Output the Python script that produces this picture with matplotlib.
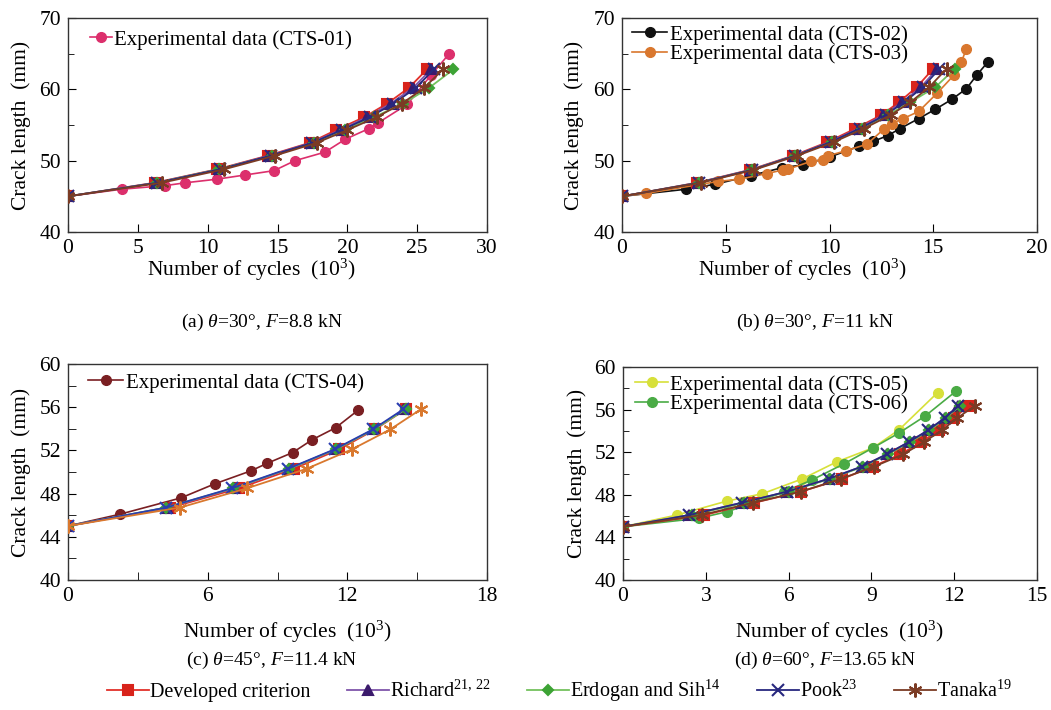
import matplotlib
matplotlib.use("Agg")
import matplotlib.pyplot as plt
from matplotlib.lines import Line2D
from matplotlib.ticker import MultipleLocator

plt.rcParams['font.family'] = ['Liberation Serif', 'DejaVu Serif']
plt.rcParams['mathtext.fontset'] = 'custom'
plt.rcParams['mathtext.rm'] = 'Liberation Serif'
plt.rcParams['mathtext.it'] = 'Liberation Serif:italic'

# ---- data ----
# (a) theta=30, F=8.8 kN
a_exp01_x = [0, 3.85, 6.95, 8.4, 10.65, 12.7, 14.75, 16.25, 18.4, 19.85, 21.55, 22.2, 24.3, 26.0, 27.3]
a_exp01_y = [45, 46.0, 46.5, 46.9, 47.4, 48.0, 48.6, 50.0, 51.2, 53.0, 54.5, 55.3, 57.9, 62.0, 65.0]
a_levels = [45, 46.9, 48.8, 50.7, 52.5, 54.3, 56.1, 58.0, 60.2, 62.8]
a_dev_x = [0, 6.2, 10.7, 14.3, 17.3, 19.2, 21.2, 22.85, 24.4, 25.7]
a_ric_x = [0, 6.3, 10.8, 14.4, 17.4, 19.5, 21.4, 23.1, 24.7, 26.0]
a_erd_x = [0, 6.4, 10.8, 14.6, 17.6, 19.8, 21.9, 24.0, 25.85, 27.6]
a_pook_x = [0, 6.4, 10.9, 14.5, 17.5, 19.6, 21.6, 23.3, 24.9, 26.2]
a_tan_x = [0, 6.7, 11.2, 14.8, 17.8, 20.0, 22.1, 23.9, 25.5, 26.85]

# (b) theta=30, F=11 kN
b_exp02_x = [0, 3.1, 4.5, 6.2, 7.7, 8.7, 10.0, 11.4, 12.1, 12.8, 13.4, 14.3, 15.1, 15.9, 16.6, 17.1, 17.65]
b_exp02_y = [45, 46.0, 46.7, 47.9, 49.0, 49.4, 50.5, 52.0, 52.7, 53.5, 54.5, 55.9, 57.2, 58.6, 60.1, 62.0, 63.9]
b_exp03_x = [0, 1.15, 4.65, 5.65, 7.0, 7.75, 8.0, 9.1, 9.7, 9.95, 10.8, 11.8, 12.65, 13.0, 13.55, 14.3, 15.2, 16.0, 16.35, 16.6]
b_exp03_y = [45, 45.4, 47.1, 47.4, 48.2, 48.7, 48.8, 49.9, 50.1, 50.7, 51.4, 52.3, 54.5, 55.2, 55.9, 56.9, 59.5, 62.0, 63.8, 65.7]
b_levels = [45, 46.9, 48.7, 50.7, 52.6, 54.5, 56.4, 58.2, 60.3, 62.9]
b_dev_x = [0, 3.6, 6.15, 8.25, 9.9, 11.25, 12.5, 13.35, 14.2, 15.0]
b_ric_x = [0, 3.65, 6.2, 8.3, 10.0, 11.4, 12.6, 13.5, 14.4, 15.2]
b_erd_x = [0, 3.7, 6.25, 8.35, 10.1, 11.55, 12.8, 13.9, 15.1, 16.05]
b_pook_x = [0, 3.7, 6.25, 8.35, 10.05, 11.45, 12.7, 13.6, 14.5, 15.3]
b_tan_x = [0, 3.8, 6.35, 8.45, 10.2, 11.65, 12.95, 13.9, 14.8, 15.65]

# (c) theta=45, F=11.4 kN
c_exp04_x = [0, 2.25, 4.85, 6.3, 7.85, 8.55, 9.65, 10.5, 11.5, 12.45]
c_exp04_y = [45, 46.1, 47.6, 48.9, 50.1, 50.8, 51.8, 53.0, 54.1, 55.7]
c_levels = [45, 46.7, 48.5, 50.3, 52.1, 53.95, 55.8]
c_dev_x = [0, 4.4, 7.35, 9.7, 11.65, 13.2, 14.5]
c_ric_x = [0, 4.25, 7.15, 9.5, 11.5, 13.15, 14.45]
c_erd_x = [0, 4.2, 7.1, 9.5, 11.5, 13.15, 14.5]
c_pook_x = [0, 4.2, 7.05, 9.45, 11.45, 13.1, 14.4]
c_tan_x = [0, 4.8, 7.7, 10.25, 12.2, 13.85, 15.15]

# (d) theta=60, F=13.65 kN
d_exp05_x = [0, 1.95, 3.75, 5.05, 6.5, 7.75, 9.05, 10.0, 11.4]
d_exp05_y = [45, 46.1, 47.4, 48.1, 49.5, 51.1, 52.4, 54.1, 57.6]
d_exp06_x = [0, 2.75, 3.75, 4.7, 5.85, 6.85, 8.0, 9.05, 10.0, 10.95, 12.05]
d_exp06_y = [45, 45.8, 46.4, 47.2, 48.3, 49.4, 50.9, 52.4, 53.8, 55.4, 57.7]
d_levels = [45, 46.1, 47.25, 48.3, 49.5, 50.65, 51.8, 52.95, 54.05, 55.2, 56.35]
d_dev_x = [0, 2.95, 4.75, 6.45, 7.95, 9.05, 10.05, 10.8, 11.45, 12.0, 12.5]
d_ric_x = [0, 2.4, 4.3, 5.95, 7.45, 8.65, 9.55, 10.35, 11.05, 11.65, 12.15]
d_erd_x = [0, 2.5, 4.4, 6.0, 7.5, 8.7, 9.6, 10.4, 11.1, 11.7, 12.2]
d_pook_x = [0, 2.4, 4.3, 5.95, 7.45, 8.65, 9.55, 10.35, 11.05, 11.65, 12.15]
d_tan_x = [0, 2.85, 4.7, 6.45, 7.9, 9.1, 10.15, 10.9, 11.55, 12.1, 12.75]

model_labels = ['Developed criterion', 'Richard$^{21,\\,22}$', 'Erdogan and Sih$^{14}$',
                'Pook$^{23}$', 'Tanaka$^{19}$']

# styles: (line colour, marker, marker colour, marker size)
styles = [
    ('#e2302a', 's', '#d8231b', 7.5),
    ('#7f55aa', '^', '#3b1a6c', 7.5),
    ('#74c25e', 'D', '#3da335', 5.5),
    ('#28287f', 'x', '#28287f', 8.5),
    ('#7b3b24', (6, 2, 0), '#7b3b24', 10),
]

W, H = 1051, 710
fig = plt.figure(figsize=(W / 100, H / 100), dpi=100)

# axes boxes in pixels: left, top, right, bottom
boxes = [(68, 18, 487, 232), (622, 18, 1037, 232), (68, 364, 487, 580), (623, 367, 1037, 580)]
# label / title placement in pixels
xlab_pos = [(251, 270), (802, 270), (287, 632), (839, 632)]
ylab_x = [21, 574, 21, 577]
title_pos = [(262, 322), (815, 322), (272, 660), (825, 660)]
leg_pos = [(90, 30), (632, 25), (88, 373), (635, 375)]
leg_hlen = [1.05, 1.7, 1.7, 1.6]

panels = [
    dict(levels=a_levels, xs=[a_dev_x, a_ric_x, a_erd_x, a_pook_x, a_tan_x],
         exp=[(a_exp01_x, a_exp01_y, '#dc2f6c', 'Experimental data (CTS-01)')],
         xlim=(0, 30), xmaj=5, xmin=None, ylim=(40, 70), ymaj=10, ymin=5,
         title='(a) $\\theta$=30°, $F$=8.8 kN'),
    dict(levels=b_levels, xs=[b_dev_x, b_ric_x, b_erd_x, b_pook_x, b_tan_x],
         exp=[(b_exp02_x, b_exp02_y, '#111111', 'Experimental data (CTS-02)'),
              (b_exp03_x, b_exp03_y, '#d9772e', 'Experimental data (CTS-03)')],
         xlim=(0, 20), xmaj=5, xmin=None, ylim=(40, 70), ymaj=10, ymin=5,
         title='(b) $\\theta$=30°, $F$=11 kN'),
    dict(levels=c_levels, xs=[c_dev_x, c_ric_x, c_erd_x, c_pook_x, c_tan_x],
         exp=[(c_exp04_x, c_exp04_y, '#7a1f22', 'Experimental data (CTS-04)')],
         xlim=(0, 18), xmaj=6, xmin=3, ylim=(40, 60), ymaj=4, ymin=2,
         title='(c) $\\theta$=45°, $F$=11.4 kN', tan_color='#d9782e', pook_color='#2a3db0'),
    dict(levels=d_levels, xs=[d_dev_x, d_ric_x, d_erd_x, d_pook_x, d_tan_x],
         exp=[(d_exp05_x, d_exp05_y, '#d7e03a', 'Experimental data (CTS-05)'),
              (d_exp06_x, d_exp06_y, '#4aab45', 'Experimental data (CTS-06)')],
         xlim=(0, 15), xmaj=3, xmin=None, ylim=(40, 60), ymaj=4, ymin=2,
         title='(d) $\\theta$=60°, $F$=13.65 kN'),
]

for k, p in enumerate(panels):
    l, t, r, b = boxes[k]
    ax = fig.add_axes([l / W, 1 - b / H, (r - l) / W, (b - t) / H])
    aw, ah = r - l, b - t
    handles = []
    for ex, ey, col, lab in p['exp']:
        h, = ax.plot(ex, ey, '-o', color=col, lw=1.2, ms=7, label=lab, zorder=2)
        handles.append(h)
    for i, (xv, st) in enumerate(zip(p['xs'], styles)):
        lc, mk, mc, ms = st
        if i == 4 and 'tan_color' in p:
            lc = mc = p['tan_color']
        if i == 3 and 'pook_color' in p:
            lc = mc = p['pook_color']
        ax.plot(xv, p['levels'], '-', color=lc, lw=1.3, marker=mk, mfc=mc, mec=mc,
                ms=ms, mew=1.5, zorder=3 + i)
    ax.set_xlim(*p['xlim'])
    ax.set_ylim(*p['ylim'])
    ax.xaxis.set_major_locator(MultipleLocator(p['xmaj']))
    if p['xmin']:
        ax.xaxis.set_minor_locator(MultipleLocator(p['xmin']))
    ax.yaxis.set_major_locator(MultipleLocator(p['ymaj']))
    ax.yaxis.set_minor_locator(MultipleLocator(p['ymin']))
    ax.tick_params(which='both', direction='in', top=False, right=False, labelsize=15.5)
    ax.tick_params(which='major', length=6, pad=5)
    ax.tick_params(which='minor', length=6 if p['xmin'] else 4)
    for s in ax.spines.values():
        s.set_linewidth(1.0)
        s.set_color('#333333')
    ax.set_xlabel('Number of cycles  (10$^3$)', fontsize=15.5, va='center')
    xl, yl = xlab_pos[k]
    ax.xaxis.set_label_coords((xl - l) / aw, (b - yl) / ah)
    ax.set_ylabel('Crack length  (mm)', fontsize=15.5, va='center')
    ax.yaxis.set_label_coords((ylab_x[k] - l) / aw, 0.5)
    lx, ly = leg_pos[k]
    ax.legend(handles=handles, loc='upper left', bbox_to_anchor=((lx - l) / aw, (b - ly) / ah),
              frameon=False, fontsize=15, handlelength=leg_hlen[k], handletextpad=0.1,
              labelspacing=0.0, borderaxespad=0, borderpad=0)
    tx, ty = title_pos[k]
    fig.text(tx / W, 1 - ty / H, p['title'], ha='center', va='center', fontsize=14)

leg_handles = []
for lab, (lc, mk, mc, ms) in zip(model_labels, styles):
    leg_handles.append(Line2D([], [], color=lc, lw=1.3, marker=mk, mfc=mc, mec=mc,
                              ms=ms, mew=1.5, label=lab))
fig.legend(handles=leg_handles, loc='center left', bbox_to_anchor=(107 / W, 1 - 691 / H), ncol=5,
           frameon=False, fontsize=14.5, handlelength=2.1, handletextpad=0.05,
           columnspacing=1.8, borderpad=0, borderaxespad=0)

fig.savefig('out.png', dpi=100)
